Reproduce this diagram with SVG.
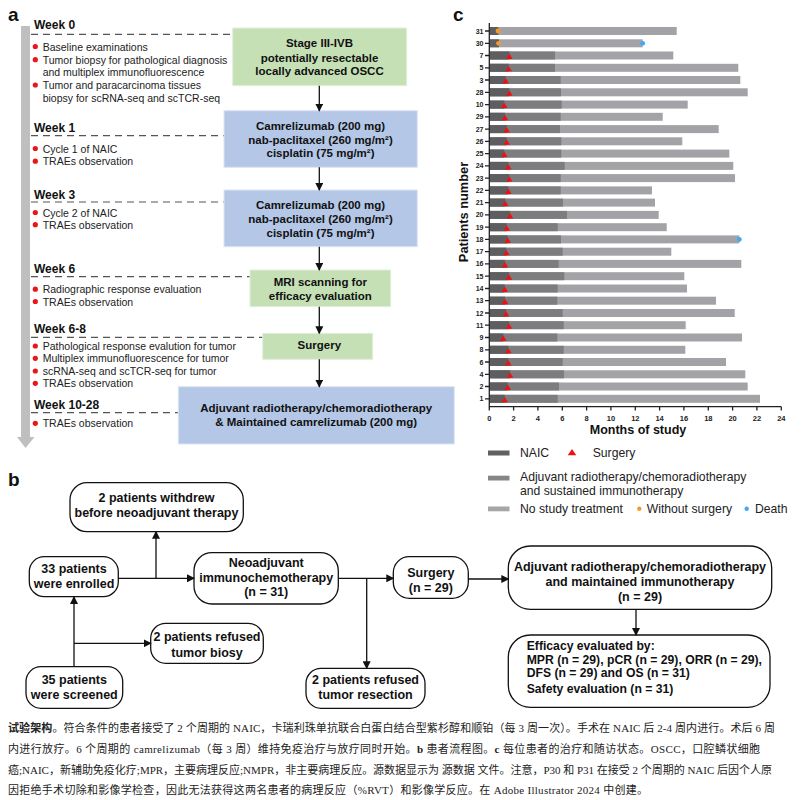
<svg xmlns="http://www.w3.org/2000/svg" xmlns:xlink="http://www.w3.org/1999/xlink" width="801" height="800" viewBox="0 0 801 800">
<style>
text{font-family:"Liberation Sans",Arial,sans-serif;fill:#111}
.pl{font-size:19px;font-weight:bold}
.wk{font-size:12px;font-weight:bold}
.bl{font-size:10.5px;fill:#222}
.bx{font-size:11.5px;font-weight:bold;text-anchor:middle}
.dash{stroke:#555;stroke-width:1.2;stroke-dasharray:7 5;fill:none}
.dot{fill:#e8161b}
.g{fill:#c5e0b4;stroke:#e4eedd;stroke-width:1}
.bu{fill:#b4c7e7;stroke:#dde5f3;stroke-width:1}
.arr{stroke:#111;stroke-width:1.3;fill:none;marker-end:url(#ah)}
.nb{fill:#fff;stroke:#111;stroke-width:1.3}
.bt{font-size:12.5px;font-weight:bold;text-anchor:middle}
.bt2{font-size:12.2px;font-weight:bold}
.d{fill:#5e5e60}
.m{fill:#7d7d80}
.l{fill:#a3a3a7}
.rl{font-size:7px;font-weight:bold;text-anchor:end;fill:#222}
.xl{font-size:7.5px;font-weight:bold;text-anchor:middle;fill:#222}
.ax{stroke:#222;stroke-width:1.3;fill:none}
.lg{font-size:12.2px;fill:#222}
.cap{font-family:"Liberation Serif","Noto Sans CJK SC",serif;font-size:11px;fill:#222}
</style>
<defs>
<marker id="ah" markerWidth="8" markerHeight="8" refX="7" refY="4" orient="auto" markerUnits="userSpaceOnUse">
<path d="M0,0 L8,4 L0,8 Z" fill="#111"/>
</marker>
<polygon id="tri" points="0,-2.4 -3.3,3 3.3,3" fill="#ee1111"/>
</defs>

<!-- Panel a -->
<g id="panel-a">
<text class="pl" x="8" y="20.5">a</text>
<g id="timeline">
<rect x="21" y="26" width="9" height="411" fill="#bfbfbf"/>
<polygon points="17,437 34.5,437 25.5,448" fill="#bfbfbf"/>
</g>
<g id="weeks">
<text class="wk" x="34" y="29.3">Week 0</text>
<line class="dash" x1="31" y1="34.3" x2="232.7" y2="34.3"/>
<circle class="dot" cx="35.3" cy="46.5" r="2.6"/>
<text class="bl" x="42.7" y="50.5">Baseline examinations</text>
<circle class="dot" cx="35.3" cy="59.7" r="2.6"/>
<text class="bl" x="42.7" y="63.7">Tumor biopsy for pathological diagnosis</text>
<text class="bl" x="42.7" y="75.7">and multiplex immunofluorescence</text>
<circle class="dot" cx="35.3" cy="85" r="2.6"/>
<text class="bl" x="42.7" y="89">Tumor and paracarcinoma tissues</text>
<text class="bl" x="42.7" y="101.5">biopsy for scRNA-seq and scTCR-seq</text>

<text class="wk" x="34" y="132">Week 1</text>
<line class="dash" x1="31" y1="135.7" x2="224" y2="135.7"/>
<circle class="dot" cx="35.3" cy="148.5" r="2.6"/>
<text class="bl" x="42.7" y="152.5">Cycle 1 of NAIC</text>
<circle class="dot" cx="35.3" cy="161.2" r="2.6"/>
<text class="bl" x="42.7" y="165.2">TRAEs observation</text>

<text class="wk" x="34" y="198.5">Week 3</text>
<line class="dash" x1="31" y1="202" x2="224" y2="202"/>
<circle class="dot" cx="35.3" cy="212.5" r="2.6"/>
<text class="bl" x="42.7" y="216.5">Cycle 2 of NAIC</text>
<circle class="dot" cx="35.3" cy="224.7" r="2.6"/>
<text class="bl" x="42.7" y="228.7">TRAEs observation</text>

<text class="wk" x="34" y="272.7">Week 6</text>
<line class="dash" x1="31" y1="276.7" x2="250" y2="276.7"/>
<circle class="dot" cx="35.3" cy="289.2" r="2.6"/>
<text class="bl" x="42.7" y="293.2">Radiographic response evaluation</text>
<circle class="dot" cx="35.3" cy="301.5" r="2.6"/>
<text class="bl" x="42.7" y="305.5">TRAEs observation</text>

<text class="wk" x="34" y="333.3">Week 6-8</text>
<line class="dash" x1="31" y1="337.3" x2="262.7" y2="337.3"/>
<circle class="dot" cx="35.3" cy="346" r="2.6"/>
<text class="bl" x="42.7" y="350">Pathological response evalution for tumor</text>
<circle class="dot" cx="35.3" cy="358.3" r="2.6"/>
<text class="bl" x="42.7" y="362.3">Multiplex immunofluorescence for tumor</text>
<circle class="dot" cx="35.3" cy="371" r="2.6"/>
<text class="bl" x="42.7" y="375">scRNA-seq and scTCR-seq for tumor</text>
<circle class="dot" cx="35.3" cy="383.3" r="2.6"/>
<text class="bl" x="42.7" y="387.3">TRAEs observation</text>

<text class="wk" x="34" y="408.7">Week 10-28</text>
<line class="dash" x1="31" y1="412.7" x2="178.3" y2="412.7"/>
<circle class="dot" cx="35.3" cy="423.3" r="2.6"/>
<text class="bl" x="42.7" y="427.3">TRAEs observation</text>
</g>

<g id="a-box1">
<rect class="g" x="232.7" y="28" width="174" height="57.7"/>
<text class="bx" x="319.5" y="47.3">Stage III-IVB</text>
<text class="bx" x="319.5" y="61.5">potentially resectable</text>
<text class="bx" x="319.5" y="75.3">locally advanced OSCC</text>
</g>
<g id="a-box2">
<rect class="bu" x="224" y="110.7" width="193.3" height="56.6"/>
<text class="bx" x="320.5" y="130">Camrelizumab (200 mg)</text>
<text class="bx" x="320.5" y="143.5">nab-paclitaxel (260 mg/m²)</text>
<text class="bx" x="320.5" y="157.3">cisplatin (75 mg/m²)</text>
</g>
<g id="a-box3">
<rect class="bu" x="224" y="190" width="193.3" height="56.7"/>
<text class="bx" x="320.5" y="209.3">Camrelizumab (200 mg)</text>
<text class="bx" x="320.5" y="222.8">nab-paclitaxel (260 mg/m²)</text>
<text class="bx" x="320.5" y="236.6">cisplatin (75 mg/m²)</text>
</g>
<g id="a-box4">
<rect class="g" x="250" y="270" width="140.7" height="36.7"/>
<text class="bx" x="320.3" y="285.7">MRI scanning for</text>
<text class="bx" x="320.3" y="300">efficacy evaluation</text>
</g>
<g id="a-box5">
<rect class="g" x="262.7" y="333.3" width="110" height="26"/>
<text class="bx" x="319.3" y="348.5">Surgery</text>
</g>
<g id="a-box6">
<rect class="bu" x="178.3" y="386.7" width="276" height="57.3"/>
<text class="bx" x="316.2" y="411.7">Adjuvant radiotherapy/chemoradiotherapy</text>
<text class="bx" x="316.2" y="426">&amp; Maintained camrelizumab (200 mg)</text>
</g>
<g id="a-connectors">
<line class="arr" x1="319.3" y1="85.7" x2="319.3" y2="110.7"/>
<line class="arr" x1="319.3" y1="167.3" x2="319.3" y2="190"/>
<line class="arr" x1="319.3" y1="246.7" x2="319.3" y2="270"/>
<line class="arr" x1="319.3" y1="306.7" x2="319.3" y2="333.3"/>
<line class="arr" x1="319.3" y1="359.3" x2="319.3" y2="386.7"/>
</g>
</g>

<!-- Panel c -->
<g id="panel-c">
<text class="pl" x="453" y="20.5">c</text>
<g id="bars">
<rect class="l" x="489.5" y="27.0" width="187.2" height="8"/><rect class="d" x="489.5" y="27.0" width="8.8" height="8"/>
<rect class="l" x="489.5" y="39.3" width="153.2" height="8"/><rect class="d" x="489.5" y="39.3" width="9.5" height="8"/>
<rect class="l" x="489.5" y="51.5" width="183.8" height="8"/><rect class="m" x="489.5" y="51.5" width="65.5" height="8"/><rect class="d" x="489.5" y="51.5" width="19.8" height="8"/>
<rect class="l" x="489.5" y="63.8" width="248.8" height="8"/><rect class="m" x="489.5" y="63.8" width="65.5" height="8"/><rect class="d" x="489.5" y="63.8" width="19.2" height="8"/>
<rect class="l" x="489.5" y="76.0" width="250.8" height="8"/><rect class="m" x="489.5" y="76.0" width="71.2" height="8"/><rect class="d" x="489.5" y="76.0" width="16.2" height="8"/>
<rect class="l" x="489.5" y="88.3" width="258.2" height="8"/><rect class="m" x="489.5" y="88.3" width="71.5" height="8"/><rect class="d" x="489.5" y="88.3" width="19.8" height="8"/>
<rect class="l" x="489.5" y="100.6" width="198.2" height="8"/><rect class="m" x="489.5" y="100.6" width="72.2" height="8"/><rect class="d" x="489.5" y="100.6" width="14.8" height="8"/>
<rect class="l" x="489.5" y="112.8" width="173.2" height="8"/><rect class="m" x="489.5" y="112.8" width="71.2" height="8"/><rect class="d" x="489.5" y="112.8" width="15.5" height="8"/>
<rect class="l" x="489.5" y="125.1" width="229.2" height="8"/><rect class="m" x="489.5" y="125.1" width="70.5" height="8"/><rect class="d" x="489.5" y="125.1" width="17.2" height="8"/>
<rect class="l" x="489.5" y="137.3" width="192.8" height="8"/><rect class="m" x="489.5" y="137.3" width="71.8" height="8"/><rect class="d" x="489.5" y="137.3" width="17.2" height="8"/>
<rect class="l" x="489.5" y="149.6" width="239.8" height="8"/><rect class="m" x="489.5" y="149.6" width="71.8" height="8"/><rect class="d" x="489.5" y="149.6" width="14.8" height="8"/>
<rect class="l" x="489.5" y="161.9" width="243.8" height="8"/><rect class="m" x="489.5" y="161.9" width="75.2" height="8"/><rect class="d" x="489.5" y="161.9" width="18.8" height="8"/>
<rect class="l" x="489.5" y="174.1" width="245.5" height="8"/><rect class="m" x="489.5" y="174.1" width="71.2" height="8"/><rect class="d" x="489.5" y="174.1" width="19.8" height="8"/>
<rect class="l" x="489.5" y="186.4" width="162.5" height="8"/><rect class="m" x="489.5" y="186.4" width="71.2" height="8"/><rect class="d" x="489.5" y="186.4" width="18.8" height="8"/>
<rect class="l" x="489.5" y="198.6" width="165.5" height="8"/><rect class="m" x="489.5" y="198.6" width="73.5" height="8"/><rect class="d" x="489.5" y="198.6" width="15.8" height="8"/>
<rect class="l" x="489.5" y="210.9" width="169.2" height="8"/><rect class="m" x="489.5" y="210.9" width="77.5" height="8"/><rect class="d" x="489.5" y="210.9" width="20.5" height="8"/>
<rect class="l" x="489.5" y="223.2" width="177.2" height="8"/><rect class="m" x="489.5" y="223.2" width="68.2" height="8"/><rect class="d" x="489.5" y="223.2" width="17.2" height="8"/>
<rect class="l" x="489.5" y="235.4" width="249.8" height="8"/><rect class="m" x="489.5" y="235.4" width="71.5" height="8"/><rect class="d" x="489.5" y="235.4" width="18.2" height="8"/>
<rect class="l" x="489.5" y="247.7" width="181.8" height="8"/><rect class="m" x="489.5" y="247.7" width="73.2" height="8"/><rect class="d" x="489.5" y="247.7" width="16.8" height="8"/>
<rect class="l" x="489.5" y="259.9" width="251.8" height="8"/><rect class="m" x="489.5" y="259.9" width="69.2" height="8"/><rect class="d" x="489.5" y="259.9" width="15.5" height="8"/>
<rect class="l" x="489.5" y="272.2" width="194.8" height="8"/><rect class="m" x="489.5" y="272.2" width="74.8" height="8"/><rect class="d" x="489.5" y="272.2" width="19.5" height="8"/>
<rect class="l" x="489.5" y="284.5" width="197.5" height="8"/><rect class="m" x="489.5" y="284.5" width="68.2" height="8"/><rect class="d" x="489.5" y="284.5" width="15.2" height="8"/>
<rect class="l" x="489.5" y="296.7" width="226.5" height="8"/><rect class="m" x="489.5" y="296.7" width="67.8" height="8"/><rect class="d" x="489.5" y="296.7" width="15.5" height="8"/>
<rect class="l" x="489.5" y="309.0" width="245.2" height="8"/><rect class="m" x="489.5" y="309.0" width="73.2" height="8"/><rect class="d" x="489.5" y="309.0" width="16.5" height="8"/>
<rect class="l" x="489.5" y="321.2" width="196.2" height="8"/><rect class="m" x="489.5" y="321.2" width="74.2" height="8"/><rect class="d" x="489.5" y="321.2" width="19.5" height="8"/>
<rect class="l" x="489.5" y="333.5" width="252.5" height="8"/><rect class="m" x="489.5" y="333.5" width="67.8" height="8"/><rect class="d" x="489.5" y="333.5" width="13.8" height="8"/>
<rect class="l" x="489.5" y="345.8" width="195.8" height="8"/><rect class="m" x="489.5" y="345.8" width="74.2" height="8"/><rect class="d" x="489.5" y="345.8" width="18.8" height="8"/>
<rect class="l" x="489.5" y="358.0" width="236.5" height="8"/><rect class="m" x="489.5" y="358.0" width="73.2" height="8"/><rect class="d" x="489.5" y="358.0" width="18.8" height="8"/>
<rect class="l" x="489.5" y="370.3" width="255.8" height="8"/><rect class="m" x="489.5" y="370.3" width="74.5" height="8"/><rect class="d" x="489.5" y="370.3" width="20.5" height="8"/>
<rect class="l" x="489.5" y="382.5" width="258.2" height="8"/><rect class="m" x="489.5" y="382.5" width="69.5" height="8"/><rect class="d" x="489.5" y="382.5" width="18.2" height="8"/>
<rect class="l" x="489.5" y="394.8" width="270.5" height="8"/><rect class="m" x="489.5" y="394.8" width="68.2" height="8"/><rect class="d" x="489.5" y="394.8" width="15.2" height="8"/>
</g>
<g id="markers">
<circle cx="498" cy="31" r="2.4" fill="#f39a2b"/>
<circle cx="498.5" cy="43.3" r="2.4" fill="#f39a2b"/>
<circle cx="642.7" cy="43.3" r="2.4" fill="#3fa9f5"/>
<circle cx="739.3" cy="239.4" r="2.4" fill="#3fa9f5"/>
<use xlink:href="#tri" x="509.3" y="56"/>
<use xlink:href="#tri" x="508.7" y="68.3"/>
<use xlink:href="#tri" x="505.7" y="80.5"/>
<use xlink:href="#tri" x="509.3" y="92.8"/>
<use xlink:href="#tri" x="504.3" y="105.1"/>
<use xlink:href="#tri" x="505" y="117.3"/>
<use xlink:href="#tri" x="506.7" y="129.6"/>
<use xlink:href="#tri" x="506.7" y="141.8"/>
<use xlink:href="#tri" x="504.3" y="154.1"/>
<use xlink:href="#tri" x="508.3" y="166.4"/>
<use xlink:href="#tri" x="509.3" y="178.6"/>
<use xlink:href="#tri" x="508.3" y="190.9"/>
<use xlink:href="#tri" x="505.3" y="203.1"/>
<use xlink:href="#tri" x="510" y="215.4"/>
<use xlink:href="#tri" x="506.7" y="227.7"/>
<use xlink:href="#tri" x="507.7" y="239.9"/>
<use xlink:href="#tri" x="506.3" y="252.2"/>
<use xlink:href="#tri" x="505" y="264.4"/>
<use xlink:href="#tri" x="509" y="276.7"/>
<use xlink:href="#tri" x="504.7" y="289"/>
<use xlink:href="#tri" x="505" y="301.2"/>
<use xlink:href="#tri" x="506" y="313.5"/>
<use xlink:href="#tri" x="509" y="325.7"/>
<use xlink:href="#tri" x="503.3" y="338"/>
<use xlink:href="#tri" x="508.3" y="350.3"/>
<use xlink:href="#tri" x="508.3" y="362.5"/>
<use xlink:href="#tri" x="510" y="374.8"/>
<use xlink:href="#tri" x="507.7" y="387"/>
<use xlink:href="#tri" x="504.7" y="399.3"/>
</g>
<g id="axes">
<path class="ax" d="M489.3,23 V406.7 H781.3"/>
<path class="ax" d="M485,31H489.3M485,43.3H489.3M485,55.5H489.3M485,67.8H489.3M485,80H489.3M485,92.3H489.3M485,104.6H489.3M485,116.8H489.3M485,129.1H489.3M485,141.3H489.3M485,153.6H489.3M485,165.9H489.3M485,178.1H489.3M485,190.4H489.3M485,202.6H489.3M485,214.9H489.3M485,227.2H489.3M485,239.4H489.3M485,251.7H489.3M485,263.9H489.3M485,276.2H489.3M485,288.5H489.3M485,300.7H489.3M485,313H489.3M485,325.2H489.3M485,337.5H489.3M485,349.8H489.3M485,362H489.3M485,374.3H489.3M485,386.5H489.3M485,398.8H489.3"/>
<path class="ax" d="M489.3,406.7V410.5M513.6,406.7V410.5M537.9,406.7V410.5M562.3,406.7V410.5M586.6,406.7V410.5M610.9,406.7V410.5M635.3,406.7V410.5M659.6,406.7V410.5M683.9,406.7V410.5M708.3,406.7V410.5M732.6,406.7V410.5M756.9,406.7V410.5M781.3,406.7V410.5"/>
<text class="rl" x="483.5" y="33.5">31</text>
<text class="rl" x="483.5" y="45.8">30</text>
<text class="rl" x="483.5" y="58">7</text>
<text class="rl" x="483.5" y="70.3">5</text>
<text class="rl" x="483.5" y="82.5">3</text>
<text class="rl" x="483.5" y="94.8">28</text>
<text class="rl" x="483.5" y="107.1">10</text>
<text class="rl" x="483.5" y="119.3">29</text>
<text class="rl" x="483.5" y="131.6">27</text>
<text class="rl" x="483.5" y="143.8">26</text>
<text class="rl" x="483.5" y="156.1">25</text>
<text class="rl" x="483.5" y="168.4">24</text>
<text class="rl" x="483.5" y="180.6">23</text>
<text class="rl" x="483.5" y="192.9">22</text>
<text class="rl" x="483.5" y="205.1">21</text>
<text class="rl" x="483.5" y="217.4">20</text>
<text class="rl" x="483.5" y="229.7">19</text>
<text class="rl" x="483.5" y="241.9">18</text>
<text class="rl" x="483.5" y="254.2">17</text>
<text class="rl" x="483.5" y="266.4">16</text>
<text class="rl" x="483.5" y="278.7">15</text>
<text class="rl" x="483.5" y="291">14</text>
<text class="rl" x="483.5" y="303.2">13</text>
<text class="rl" x="483.5" y="315.5">12</text>
<text class="rl" x="483.5" y="327.7">11</text>
<text class="rl" x="483.5" y="340">9</text>
<text class="rl" x="483.5" y="352.3">8</text>
<text class="rl" x="483.5" y="364.5">6</text>
<text class="rl" x="483.5" y="376.8">4</text>
<text class="rl" x="483.5" y="389">2</text>
<text class="rl" x="483.5" y="401.3">1</text>
<text class="xl" x="489.3" y="420.5">0</text>
<text class="xl" x="513.6" y="420.5">2</text>
<text class="xl" x="537.9" y="420.5">4</text>
<text class="xl" x="562.3" y="420.5">6</text>
<text class="xl" x="586.6" y="420.5">8</text>
<text class="xl" x="610.9" y="420.5">10</text>
<text class="xl" x="635.3" y="420.5">12</text>
<text class="xl" x="659.6" y="420.5">14</text>
<text class="xl" x="683.9" y="420.5">16</text>
<text class="xl" x="708.3" y="420.5">18</text>
<text class="xl" x="732.6" y="420.5">20</text>
<text class="xl" x="756.9" y="420.5">22</text>
<text class="xl" x="781.3" y="420.5">24</text>
<text x="638" y="433.5" font-size="12.5" font-weight="bold" text-anchor="middle">Months of study</text>
<text transform="translate(468,212) rotate(-90)" font-size="12.8" font-weight="bold" text-anchor="middle">Patients number</text>
</g>
<g id="legend">
<rect x="488" y="450.5" width="21.5" height="5" fill="#616161"/>
<text class="lg" x="520" y="456.7">NAIC</text>
<polygon points="572,449 567.7,455.3 576.3,455.3" fill="#ee1111"/>
<text class="lg" x="592.7" y="456.7">Surgery</text>
<rect x="488" y="475.7" width="21.5" height="4.8" fill="#858585"/>
<text class="lg" x="520" y="481">Adjuvant radiotherapy/chemoradiotherapy</text>
<text class="lg" x="520" y="494.5">and sustained immunotherapy</text>
<rect x="488" y="506.5" width="21.5" height="4.8" fill="#a6a6a9"/>
<text class="lg" x="520" y="512.7">No study treatment</text>
<circle cx="639.3" cy="508.7" r="2.2" fill="#f39a2b"/>
<text class="lg" x="646.7" y="512.7">Without surgery</text>
<circle cx="746.7" cy="508.7" r="2.2" fill="#3fa9f5"/>
<text class="lg" x="755" y="512.7">Death</text>
</g>
</g>

<!-- Panel b -->
<g id="panel-b">
<text class="pl" x="8" y="485.7">b</text>
<g id="b-withdrew">
<rect class="nb" x="70" y="482.7" width="173.3" height="49" rx="17"/>
<text class="bt" x="156.5" y="501.5">2 patients withdrew</text>
<text class="bt" x="156.5" y="516.8">before neoadjuvant therapy</text>
</g>
<g id="b-enrolled">
<rect class="nb" x="29.3" y="556.7" width="89" height="40" rx="15"/>
<text class="bt" x="74" y="572.5">33 patients</text>
<text class="bt" x="74" y="587.5">were enrolled</text>
</g>
<g id="b-neo">
<rect class="nb" x="194" y="552.7" width="144.3" height="51.3" rx="18"/>
<text class="bt" x="266.2" y="567">Neoadjuvant</text>
<text class="bt" x="266.2" y="582">immunochemotherapy</text>
<text class="bt" x="266.2" y="595.5">(n = 31)</text>
</g>
<g id="b-biosy">
<rect class="nb" x="150.7" y="623.3" width="112.6" height="40" rx="15"/>
<text class="bt" x="207" y="641">2 patients refused</text>
<text class="bt" x="207" y="656.5">tumor biosy</text>
</g>
<g id="b-screened">
<rect class="nb" x="26" y="666.7" width="96.7" height="41.6" rx="15"/>
<text class="bt" x="74.3" y="683.5">35 patients</text>
<text class="bt" x="74.3" y="698.5">were screened</text>
</g>
<g id="b-resection">
<rect class="nb" x="306" y="668.3" width="119" height="40" rx="15"/>
<text class="bt" x="365.5" y="683.5">2 patients refused</text>
<text class="bt" x="365.5" y="699">tumor resection</text>
</g>
<g id="b-surgery">
<rect class="nb" x="393.3" y="556.7" width="75" height="41.6" rx="16"/>
<text class="bt" x="430.8" y="577">Surgery</text>
<text class="bt" x="430.8" y="592">(n = 29)</text>
</g>
<g id="b-adjuvant">
<rect class="nb" x="508.3" y="546" width="263.4" height="63.3" rx="22"/>
<text class="bt" x="640" y="571">Adjuvant radiotherapy/chemoradiotherapy</text>
<text class="bt" x="640" y="586">and maintained immunotherapy</text>
<text class="bt" x="640" y="600.5">(n = 29)</text>
</g>
<g id="b-efficacy">
<rect class="nb" x="508.3" y="635" width="261.7" height="72.3" rx="22"/>
<text class="bt2" x="526.7" y="650">Efficacy evaluated by:</text>
<text class="bt2" x="526.7" y="663.7">MPR (n = 29), pCR (n = 29), ORR (n = 29),</text>
<text class="bt2" x="526.7" y="677.3">DFS (n = 29) and OS (n = 31)</text>
<text class="bt2" x="526.7" y="692.5">Safety evaluation (n = 31)</text>
</g>
<g id="b-connectors">
<line class="arr" x1="74" y1="666.7" x2="74" y2="597"/>
<line class="arr" x1="74" y1="643.3" x2="150.7" y2="643.3"/>
<line class="arr" x1="118.3" y1="578.3" x2="194" y2="578.3"/>
<line class="arr" x1="156" y1="578.3" x2="156" y2="531.7"/>
<line class="arr" x1="338.3" y1="578.3" x2="393.3" y2="578.3"/>
<line class="arr" x1="366.7" y1="578.3" x2="366.7" y2="668.3"/>
<line class="arr" x1="468.3" y1="579" x2="508.3" y2="579"/>
<line class="arr" x1="636" y1="609.3" x2="636" y2="635"/>
</g>
</g>

<!-- Caption -->
<g id="caption">
<text class="cap" x="8" y="731.5" textLength="767" lengthAdjust="spacing"><tspan font-weight="bold">试验架构</tspan>。符合条件的患者接受了 2 个周期的 NAIC，卡瑞利珠单抗联合白蛋白结合型紫杉醇和顺铂（每 3 周一次）。手术在 NAIC 后 2-4 周内进行。术后 6 周</text>
<text class="cap" x="8" y="753" textLength="752" lengthAdjust="spacing">内进行放疗。6 个周期的 camrelizumab（每 3 周）维持免疫治疗与放疗同时开始。<tspan font-weight="bold">b</tspan> 患者流程图。<tspan font-weight="bold">c</tspan> 每位患者的治疗和随访状态。OSCC，口腔鳞状细胞</text>
<text class="cap" x="8" y="773.5" textLength="764" lengthAdjust="spacing">癌;NAIC，新辅助免疫化疗;MPR，主要病理反应;NMPR，非主要病理反应。源数据显示为 源数据 文件。注意，P30 和 P31 在接受 2 个周期的 NAIC 后因个人原</text>
<text class="cap" x="8" y="794" textLength="640" lengthAdjust="spacing">因拒绝手术切除和影像学检查，因此无法获得这两名患者的病理反应（%RVT）和影像学反应。在 Adobe Illustrator 2024 中创建。</text>
</g>
</svg>
